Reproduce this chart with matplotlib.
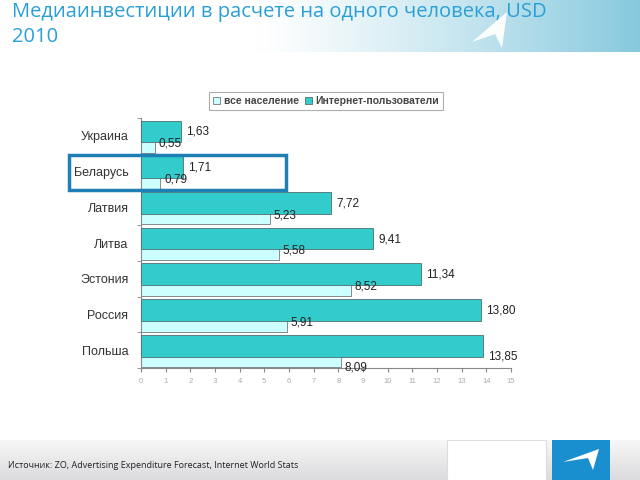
import matplotlib.pyplot as plt
import matplotlib.patches as patches
import numpy as np

plt.rcParams['font.family'] = ['Liberation Sans', 'DejaVu Sans']

strany = ['Украина', 'Беларусь', 'Латвия', 'Литва', 'Эстония', 'Россия', 'Польша']
vse_naselenie = [0.55, 0.79, 5.23, 5.58, 8.52, 5.91, 8.09]
internet_polz = [1.63, 1.71, 7.72, 9.41, 11.34, 13.80, 13.85]
x_metki = [str(i) for i in range(16)]

def zapyataya(v):
    return ('%.2f' % v).replace('.', ',')

def px(pts):
    # piksely -> doli figury
    return [[a / 640, 1 - b / 480] for a, b in pts]

fig = plt.figure(figsize=(6.4, 4.8), dpi=100)

# shapka s gradientom
hdr = fig.add_axes([0, 1 - 52 / 480, 1, 52 / 480])
grad = np.clip((np.linspace(0, 1, 256) - 0.4) / 0.6, 0, 1) ** 1.2
cols = np.zeros((1, 256, 3))
belyi = np.array([1.0, 1.0, 1.0])
goluboi = np.array([0.53, 0.79, 0.87])
for k in range(256):
    cols[0, k] = belyi * (1 - grad[k]) + goluboi * grad[k]
hdr.imshow(cols, aspect='auto', extent=[0, 1, 0, 1])
hdr.axis('off')

# podval
ftr = fig.add_axes([0, 0, 1, 40 / 480])
vgrad = np.linspace(0, 1, 64)
fc = np.zeros((64, 1, 3))
for k in range(64):
    fc[k, 0] = np.array([0.86, 0.86, 0.87]) * (1 - vgrad[k]) + np.array([0.97, 0.97, 0.97]) * vgrad[k]
ftr.imshow(fc, aspect='auto', extent=[0, 1, 0, 1], origin='lower')
ftr.axis('off')

fig.patches.append(patches.Polygon(px([(472, 42), (507, 12), (502, 48), (495, 34)]),
                                   closed=True, transform=fig.transFigure,
                                   facecolor='white', edgecolor='none', alpha=0.95))
fig.patches.append(patches.Rectangle((447 / 640, 0), 99 / 640, 40 / 480, transform=fig.transFigure,
                                     facecolor='white', edgecolor='#dddddd', lw=0.8))
fig.patches.append(patches.Rectangle((552 / 640, 0), 58 / 640, 40 / 480, transform=fig.transFigure,
                                     facecolor='#1a8fd0', edgecolor='none'))
fig.patches.append(patches.Polygon(px([(563, 462), (599, 449), (593, 470), (588, 458)]),
                                   closed=True, transform=fig.transFigure,
                                   facecolor='white', edgecolor='none'))

fig.text(12 / 640, 1 - 12 / 480, 'Медиаинвестиции в расчете на одного человека, USD',
         fontsize=14.5, color='#2a9fd6', family=['Open Sans', 'DejaVu Sans'], va='center')
fig.text(12 / 640, 1 - 37 / 480, '2010',
         fontsize=14.5, color='#2a9fd6', family=['Open Sans', 'DejaVu Sans'], va='center')
fig.text(8 / 640, 14 / 480, 'Источник: ZO, Advertising Expenditure Forecast, Internet World Stats',
         fontsize=6.5, color='#222222', family=['Open Sans', 'DejaVu Sans'], va='center')

ax = fig.add_axes([141 / 640, 1 - 368 / 480, 370 / 640, 250 / 480])
y = np.arange(len(strany))
b1 = ax.barh(y + 0.18, vse_naselenie, height=0.60, color='#ccffff', edgecolor='#777777',
             linewidth=0.6, label='все население', zorder=2)
b2 = ax.barh(y - 0.125, internet_polz, height=0.61, color='#33cccc', edgecolor='#4f6f6f',
             linewidth=0.6, label='Интернет-пользователи', zorder=3)

for i in range(len(strany)):
    sdvig = 0.28 if i == len(strany) - 1 else 0.0
    ax.text(internet_polz[i] + 0.2, y[i] - 0.11 + sdvig, zapyataya(internet_polz[i]),
            fontsize=8.5, color='#222222', va='center', ha='left', zorder=5)
    ax.text(vse_naselenie[i] + 0.15, y[i] + 0.22 + sdvig, zapyataya(vse_naselenie[i]),
            fontsize=8.5, color='#222222', va='center', ha='left', zorder=5)

ax.set_xlim(0, 15)
ax.set_ylim(len(strany) - 0.5, -0.5)
ax.set_xticks(range(16))
ax.set_xticklabels(x_metki, fontsize=5.5, color='#aaaaaa')
ax.set_yticks(y)
ax.set_yticklabels(strany, fontsize=9, color='#333333')
ax.set_yticks(np.arange(-0.5, len(strany), 1), minor=True)
ax.tick_params(axis='y', which='major', length=0, pad=9)
ax.tick_params(axis='y', which='minor', length=3, color='#888888')
ax.tick_params(axis='x', length=3, color='#888888', pad=4)
for s in ['top', 'right']:
    ax.spines[s].set_visible(False)
for s in ['left', 'bottom']:
    ax.spines[s].set_color('#888888')
    ax.spines[s].set_linewidth(0.8)

leg = fig.legend(handles=[b1, b2], loc='center', bbox_to_anchor=(326 / 640, 1 - 101 / 480),
                 ncol=2, frameon=True, fancybox=False, handlelength=0.7,
                 handleheight=0.7, handletextpad=0.3, columnspacing=0.6, borderpad=0.35,
                 prop={'weight': 'bold', 'size': 7.5})
leg.get_frame().set_edgecolor('#999999')
leg.get_frame().set_linewidth(0.8)
for t in leg.get_texts():
    t.set_color('#444444')

fig.patches.append(patches.Rectangle((69 / 640, 1 - 190 / 480), 217 / 640, 35 / 480,
                                     transform=fig.transFigure, fill=False,
                                     edgecolor='#1f7fb5', linewidth=2.5, zorder=10))

fig.savefig('out.png', dpi=100)
